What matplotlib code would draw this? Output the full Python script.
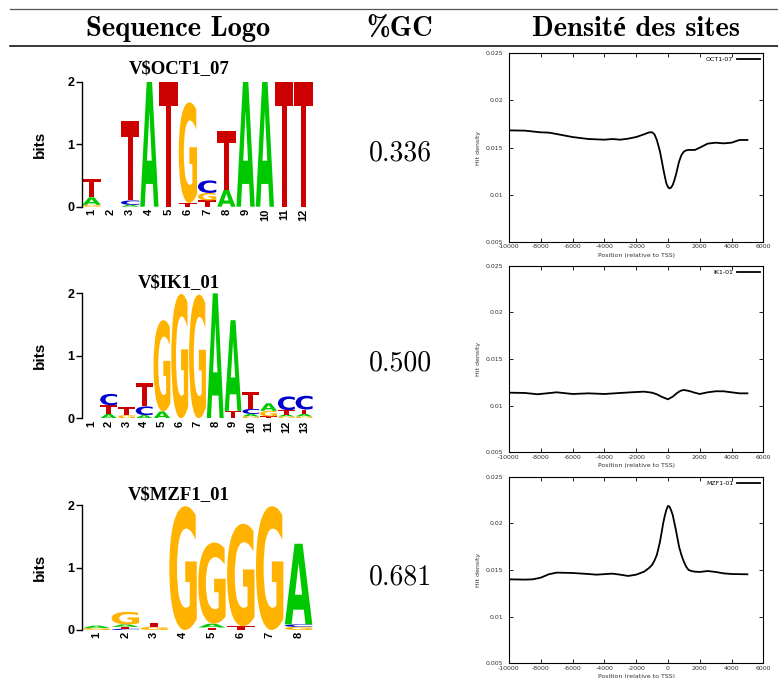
import matplotlib.pyplot as plt
from matplotlib.font_manager import FontProperties
from matplotlib.lines import Line2D
from matplotlib.patches import PathPatch
from matplotlib.textpath import TextPath
from matplotlib.transforms import Affine2D

plt.rcParams["axes.unicode_minus"] = False

# --- motif table content ---
motif_names = ["V$OCT1_07", "V$IK1_01", "V$MZF1_01"]
gc_content = ["0.336", "0.500", "0.681"]
density_labels = ["OCT1-07", "IK1-01", "MZF1-01"]
header_labels = ["Sequence Logo", "%GC", "Densité des sites"]

# letter stacks per position, bottom to top: (base, bits)
oct1_logo = [
    [("G", 0.03), ("A", 0.12), ("T", 0.30)],
    [],
    [("A", 0.03), ("C", 0.07), ("T", 1.27)],
    [("A", 2.0)],
    [("T", 2.0)],
    [("T", 0.06), ("G", 1.61)],
    [("T", 0.10), ("G", 0.12), ("C", 0.20)],
    [("A", 0.27), ("T", 0.94)],
    [("A", 2.0)],
    [("A", 2.0)],
    [("T", 2.0)],
    [("T", 2.0)],
]
ik1_logo = [
    [],
    [("A", 0.07), ("T", 0.14), ("C", 0.18)],
    [("G", 0.05), ("T", 0.13)],
    [("A", 0.05), ("C", 0.14), ("T", 0.38)],
    [("A", 0.11), ("G", 1.46)],
    [("G", 1.99)],
    [("G", 1.98)],
    [("A", 2.0)],
    [("T", 0.12), ("A", 1.45)],
    [("G", 0.03), ("A", 0.04), ("C", 0.08), ("T", 0.27)],
    [("T", 0.03), ("G", 0.09), ("A", 0.12)],
    [("G", 0.03), ("A", 0.03), ("T", 0.07), ("C", 0.22)],
    [("G", 0.03), ("A", 0.04), ("T", 0.07), ("C", 0.22)],
]
mzf1_logo = [
    [("G", 0.03), ("A", 0.04)],
    [("C", 0.02), ("T", 0.03), ("A", 0.04), ("G", 0.20)],
    [("G", 0.05), ("T", 0.07)],
    [("G", 1.98)],
    [("T", 0.04), ("A", 0.06), ("G", 1.30)],
    [("T", 0.06), ("G", 1.64)],
    [("G", 1.98)],
    [("G", 0.05), ("C", 0.04), ("A", 1.29)],
]

# hit density around the TSS
oct1_pos = [-10000, -9000, -8000, -7500, -7000, -6000, -5000, -4000, -3500, -3000,
            -2500, -2000, -1500, -1200, -1000, -850, -700, -600, -500, -400, -300,
            -200, -100, 0, 100, 200, 300, 400, 500, 600, 700, 850, 1000, 1150, 1300,
            1500, 1700, 2000, 2500, 3000, 3500, 4000, 4500, 5000]
oct1_hits = [0.01682, 0.01679, 0.01661, 0.01658, 0.01643, 0.01611, 0.01590, 0.01583, 0.01590, 0.01583,
             0.01594, 0.01611, 0.01640, 0.01660, 0.01662, 0.01640, 0.01580, 0.01520, 0.01456, 0.01370, 0.01279,
             0.01195, 0.01120, 0.01080, 0.01066, 0.01075, 0.01102, 0.01150, 0.01208, 0.01280, 0.01350, 0.01420, 0.01456, 0.01470, 0.01474,
             0.01474, 0.01474, 0.01498, 0.01541, 0.01551, 0.01544, 0.01551, 0.01580, 0.01580]

ik1_pos = [-10000, -9000, -8200, -7000, -6000, -5000, -4000, -3000, -2000, -1500,
           -1000, -700, -500, -250, 0, 300, 600, 800, 1000, 1200, 1400, 1700, 2000,
           2500, 3000, 3500, 4000, 4500, 5000]
ik1_hits = [0.01139, 0.01136, 0.01122, 0.01143, 0.01125, 0.01132, 0.01125, 0.01136, 0.01146, 0.01150,
            0.01139, 0.01122, 0.01104, 0.01085, 0.01068, 0.01096, 0.01139, 0.01160, 0.01168, 0.01162, 0.01154, 0.01138, 0.01125,
            0.01143, 0.01154, 0.01154, 0.01143, 0.01132, 0.01132]

mzf1_pos = [-10000, -9000, -8500, -8000, -7500, -7000, -6000, -5000, -4500, -3500,
            -3000, -2500, -2000, -1500, -1200, -1000, -850, -700, -600, -500, -400,
            -300, -200, -100, 0, 100, 200, 300, 400, 500, 600, 700, 850, 1000, 1150,
            1300, 1500, 1700, 2000, 2500, 3000, 3500, 4000, 5000]
mzf1_hits = [0.01400, 0.01397, 0.01400, 0.01418, 0.01454, 0.01472, 0.01468, 0.01457, 0.01450, 0.01461,
             0.01450, 0.01436, 0.01450, 0.01482, 0.01520, 0.01554, 0.01600, 0.01661, 0.01730, 0.01804, 0.01900,
             0.02000, 0.02080, 0.02143, 0.02186, 0.02179, 0.02140, 0.02090, 0.02010, 0.01929, 0.01840, 0.01750, 0.01660, 0.01589, 0.01535,
             0.01500, 0.01488, 0.01482, 0.01479, 0.01489, 0.01479, 0.01464, 0.01457, 0.01454]

density_x_ticks = [-10000, -8000, -6000, -4000, -2000, 0, 2000, 4000, 6000]
density_y_ticks = [0.005, 0.01, 0.015, 0.02, 0.025]
density_y_labels = ["0.005", "0.01", "0.015", "0.02", "0.025"]

LETTER_COLORS = {"A": "#00c800", "C": "#0000cc", "G": "#ffb300", "T": "#cc0000"}
LOGO_FONT = FontProperties(family="DejaVu Sans", weight="bold")

W, H = 778, 678
fig = plt.figure(figsize=(W / 100, H / 100), dpi=100)


def px_axes(left, top, right, bottom):
    return fig.add_axes([left / W, 1 - bottom / H, (right - left) / W, (bottom - top) / H])


def px_text(x, y, s, **kw):
    return fig.text(x / W, 1 - y / H, s, **kw)


def draw_letter(ax, letter, xc, y0, height, width=0.95):
    tp = TextPath((0, 0), letter, size=1, prop=LOGO_FONT)
    bb = tp.get_extents()
    tr = (Affine2D().translate(-bb.x0, -bb.y0)
          .scale(width / bb.width, height / bb.height)
          .translate(xc - width / 2, y0))
    ax.add_patch(PathPatch(tr.transform_path(tp), fc=LETTER_COLORS[letter], ec="none"))


def draw_logo(ax, stacks):
    for i, stack in enumerate(stacks, start=1):
        base = 0.0
        for letter, bits in stack:
            draw_letter(ax, letter, i, base, bits)
            base += bits
    n = len(stacks)
    ax.set_xlim(0.5, n + 0.5)
    ax.set_ylim(0, 2)
    ax.set_xticks(range(1, n + 1))
    ax.set_xticklabels([str(i) for i in range(1, n + 1)], rotation=90,
                       fontsize=8, fontweight="bold", family="Liberation Sans")
    ax.set_yticks([0, 1, 2])
    ax.set_yticklabels(["0", "1", "2"], fontsize=9, fontweight="bold", family="Liberation Sans")
    ax.tick_params(axis="x", length=0, pad=1.5)
    ax.tick_params(axis="y", length=4, width=1, pad=1.5)
    for side in ("top", "right", "bottom"):
        ax.spines[side].set_visible(False)
    ax.spines["left"].set_linewidth(1)
    ax.set_ylabel("bits", fontsize=11, fontweight="bold", family="Liberation Sans")
    ax.yaxis.set_label_coords(-0.15, 0.5)
    ax.patch.set_alpha(0)


def draw_density(ax, pos, hits, label):
    ax.plot(pos, hits, color="black", lw=1.3, label=label)
    ax.set_xlim(-10000, 6000)
    ax.set_ylim(0.005, 0.025)
    ax.set_xticks(density_x_ticks)
    ax.set_xticklabels([str(t) for t in density_x_ticks])
    ax.set_yticks(density_y_ticks)
    ax.set_yticklabels(density_y_labels)
    ax.tick_params(direction="in", top=True, right=True, length=3, width=0.6,
                   labelsize=4.5, labelcolor="#333333")
    ax.tick_params(axis="x", pad=1.8)
    ax.tick_params(axis="y", pad=4)
    for sp in ax.spines.values():
        sp.set_linewidth(0.8)
    ax.set_xlabel("Position (relative to TSS)", fontsize=4.5, color="#333333")
    ax.set_ylabel("Hit density", fontsize=4.5, color="#333333")
    ax.xaxis.set_label_coords(0.5, -0.06)
    ax.yaxis.set_label_coords(-0.112, 0.5)
    ax.legend(loc="upper right", frameon=False, markerfirst=False, fontsize=4.5,
              handlelength=3.6, handletextpad=0.6, borderaxespad=0.2, borderpad=0.4)


# header with table rules
fig.add_artist(Line2D([10 / W, 1], [1 - 9 / H] * 2, transform=fig.transFigure,
                      color="#555555", lw=0.9))
fig.add_artist(Line2D([10 / W, 1], [1 - 46 / H] * 2, transform=fig.transFigure,
                      color="black", lw=1.1))
header_font = ["cmb10", "Liberation Serif"]
for x, s in zip([178, 400, 636], header_labels):
    px_text(x, 35.5, s, ha="center", va="baseline", fontsize=20.5,
            fontweight="bold", family=header_font)

logo_rows = [(81.7, 206.7), (293.3, 418.3), (505, 630)]
title_y = [69, 283, 495]
gc_y = [153, 363, 577]
density_rows = [(53.3, 241.7), (265.7, 452.3), (476.7, 663.3)]
logos = [oct1_logo, ik1_logo, mzf1_logo]
curves = [(oct1_pos, oct1_hits), (ik1_pos, ik1_hits), (mzf1_pos, mzf1_hits)]

for k in range(3):
    top, bottom = logo_rows[k]
    ax = px_axes(82, top, 313, bottom)
    draw_logo(ax, logos[k])
    px_text(179, title_y[k], motif_names[k], ha="center", va="center",
            fontsize=13.5, fontweight="bold", family="Liberation Serif")
    px_text(400, gc_y[k], gc_content[k], ha="center", va="center",
            fontsize=20, family=["cmr10", "DejaVu Serif"])
    dtop, dbottom = density_rows[k]
    dax = px_axes(509, dtop, 763.3, dbottom)
    draw_density(dax, curves[k][0], curves[k][1], density_labels[k])

fig.savefig("out.png", dpi=100)
